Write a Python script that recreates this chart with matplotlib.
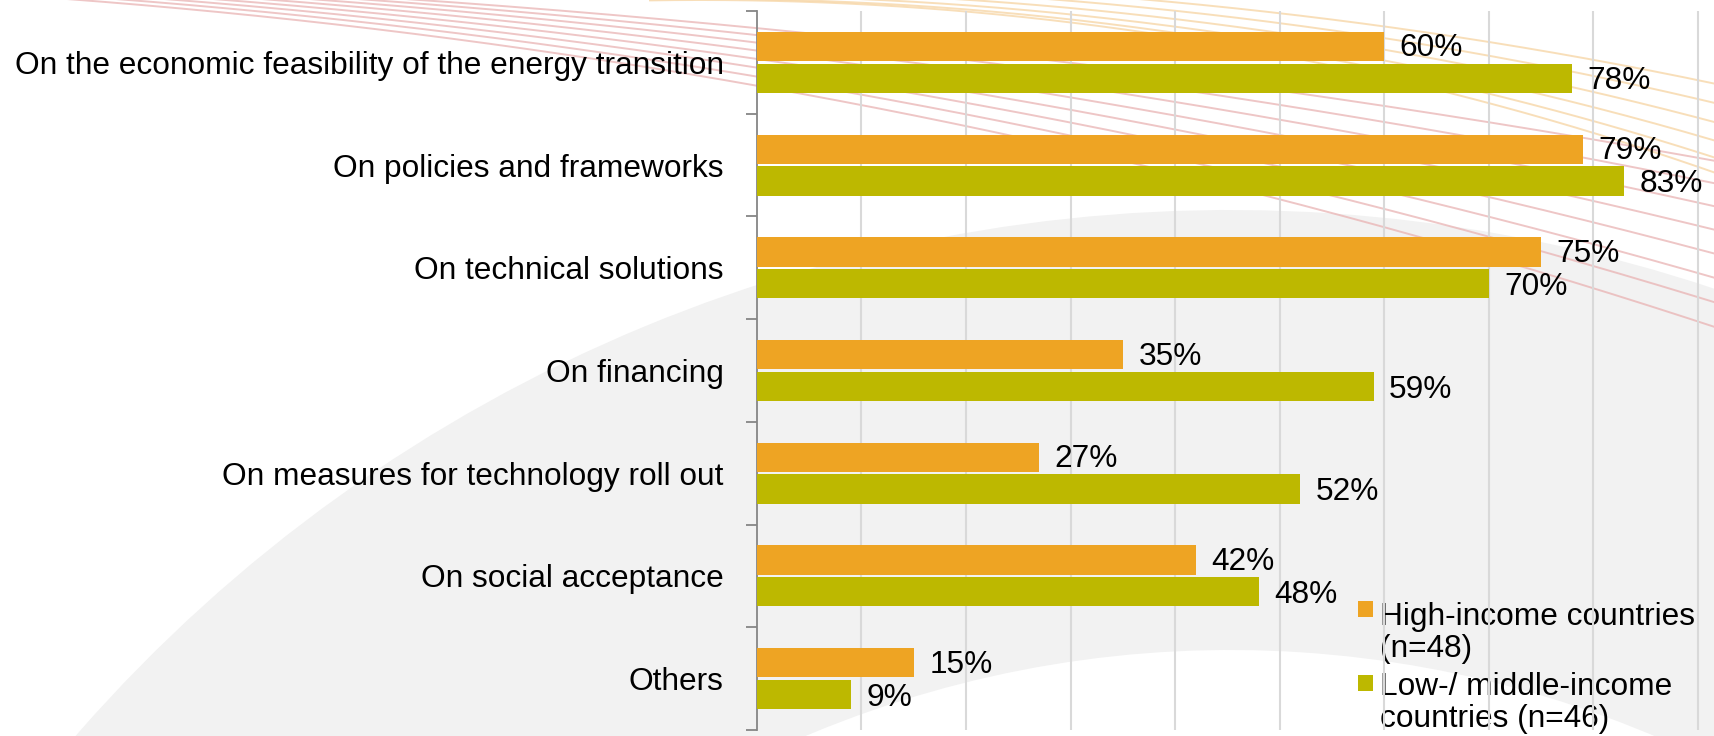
import numpy as np
import matplotlib.pyplot as plt
from matplotlib.patches import Wedge, Rectangle

plt.rcParams['font.family'] = ['Liberation Sans', 'DejaVu Sans']

categories = ['On the economic feasibility of the energy transition',
              'On policies and frameworks',
              'On technical solutions',
              'On financing',
              'On measures for technology roll out',
              'On social acceptance',
              'Others']
highIncome = [60, 79, 75, 35, 27, 42, 15]
lowIncome = [78, 83, 70, 59, 52, 48, 9]
seriesNames = ['High-income countries\n(n=48)', 'Low-/ middle-income\ncountries (n=46)']

orange = '#EEA423'
green = '#BDB800'
fs = 22.8

W, H = 1715, 736
fig = plt.figure(figsize=(W / 100, H / 100), dpi=100)

# tło w pikselach (y w dół): szary łuk i cienkie linie rozchodzące się wachlarzem
bg = fig.add_axes([0, 0, 1, 1], zorder=-1)
bg.set_xlim(0, W)
bg.set_ylim(H, 0)
bg.axis('off')
bg.add_patch(Wedge((1230, 1740), 1530, 195, 300, width=440, color='#F2F2F2', lw=0))
bg.add_patch(Wedge((1230, 1740), 1000, 200, 300, width=90, color='#F5F5F5', lw=0))


def shape(x, cx, cy, r):
    return cy - np.sqrt(r ** 2 - (x - cx) ** 2)


xs = np.linspace(0, W, 400)
for x0, s in zip(np.linspace(80, 420, 8), np.linspace(1.0, 0.55, 8)):
    ys = s * (shape(xs, -450, 6900, 6920) - shape(x0, -450, 6900, 6920))
    bg.plot(xs, ys, color='#E9B3B3', lw=1.4, alpha=0.75)
xo = np.linspace(650, W, 300)
for x0, s in zip(np.linspace(700, 1150, 6), np.linspace(1.0, 0.6, 6)):
    ys = s * (shape(xo, 700, 3013, 3069) - shape(x0, 700, 3013, 3069))
    bg.plot(xo, ys, color='#F6D4A2', lw=1.4, alpha=0.75)

ax = fig.add_axes([757 / W, 6 / H, (1802 - 757) / W, 719 / H])
ax.patch.set_alpha(0)

y = np.arange(len(categories))
off = 0.155
h = 0.285
ax.barh(y - off, highIncome, height=h, color=orange, zorder=3)
ax.barh(y + off, lowIncome, height=h, color=green, zorder=3)

for yy, v in zip(y - off, highIncome):
    ax.text(v + 1.5, yy + 0.02, f'{v}%', va='center', ha='left', fontsize=fs)
for yy, v in zip(y + off, lowIncome):
    ax.text(v + 1.5, yy + 0.03, f'{v}%', va='center', ha='left', fontsize=fs)

ax.set_xlim(0, 100)
ax.set_ylim(len(categories) - 0.5, -0.5)
ax.set_xticks(np.arange(10, 100, 10))
ax.tick_params(axis='x', length=0, labelbottom=False)
ax.grid(axis='x', color='#D9D9D9', lw=1.5, zorder=0)

ax.set_yticks(y)
ax.set_yticklabels(categories, fontsize=fs)
ax.set_yticks(np.arange(-0.5, len(categories)), minor=True)
ax.tick_params(axis='y', which='major', length=0, pad=24)
ax.tick_params(axis='y', which='minor', length=8, width=1.3, color='#868686')

for s in ['top', 'right', 'bottom']:
    ax.spines[s].set_visible(False)
ax.spines['left'].set_color('#868686')
ax.spines['left'].set_linewidth(1.3)

# legenda
for top, sq, col, name in [(604, 601, orange, seriesNames[0]), (674, 675, green, seriesNames[1])]:
    bg.add_patch(Rectangle((1358, sq), 15, 16, color=col, lw=0))
    bg.text(1380, top - 2, name, va='top', ha='left', fontsize=fs, linespacing=1.1)

fig.savefig('out.png', dpi=100)
